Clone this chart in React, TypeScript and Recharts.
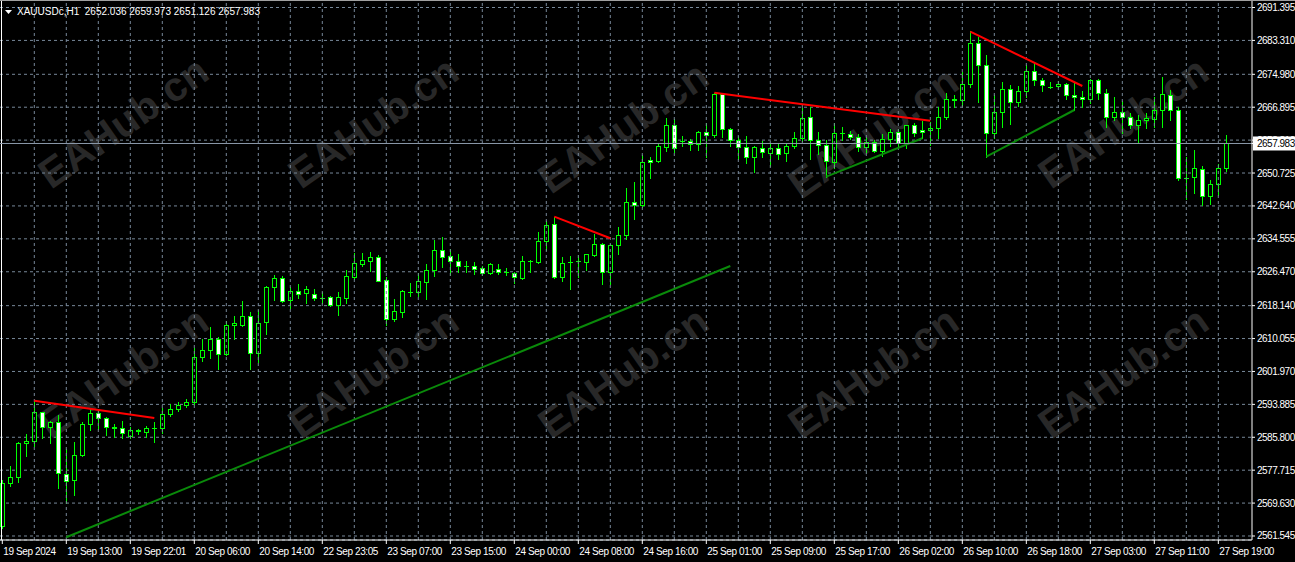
import { ComposedChart, Bar, XAxis, YAxis, CartesianGrid, ReferenceLine } from "recharts";

const W = 1295;
const H = 562;
const FONT = "'Liberation Sans', Arial, sans-serif";

const symbol = "XAUUSDc,H1";

const xLabels = [
  "19 Sep 2024", "19 Sep 13:00", "19 Sep 22:01", "20 Sep 06:00", "20 Sep 14:00",
  "22 Sep 23:05", "23 Sep 07:00", "23 Sep 15:00", "24 Sep 00:00", "24 Sep 08:00",
  "24 Sep 16:00", "25 Sep 01:00", "25 Sep 09:00", "25 Sep 17:00", "26 Sep 02:00",
  "26 Sep 10:00", "26 Sep 18:00", "27 Sep 03:00", "27 Sep 11:00", "27 Sep 19:00",
];

const priceTicks = [
  2561.545, 2569.63, 2577.715, 2585.8, 2593.885, 2601.97, 2610.055, 2618.14, 2626.47,
  2634.555, 2642.64, 2650.725, 2658.81, 2666.895, 2674.98, 2683.31, 2691.395,
];

const opens = [
  2564.08, 2574.49, 2575.97, 2584.32, 2584.81, 2591.94, 2588.4, 2589.48, 2576.7, 2575.23,
  2581.37, 2588.99, 2591.69, 2590.46, 2588.25, 2588.2, 2586.19, 2587.5, 2587.17, 2588.05,
  2588.15, 2591.45, 2592.75, 2593.73, 2594.47, 2605.45, 2607.17, 2609.95, 2606.34, 2613.31,
  2613.46, 2615.53, 2606.58, 2614.05, 2622.65, 2624.86, 2619.46, 2621.67, 2621.18, 2620.93,
  2620.0, 2620.19, 2618.23, 2620.1, 2625.26, 2628.45, 2629.19, 2630.02, 2624.37, 2614.94,
  2616.66, 2621.6, 2621.57, 2624.03, 2626.9, 2631.74, 2630.34, 2629.04, 2628.0, 2627.81,
  2627.32, 2626.24, 2627.07, 2626.5, 2626.24, 2625.01, 2629.04, 2628.79, 2633.95, 2638.13,
  2625.26, 2628.9, 2629.0, 2628.79, 2630.66, 2633.22, 2626.34, 2633.12, 2635.43, 2643.54,
  2642.95, 2653.93, 2653.76, 2657.05, 2662.46, 2658.7, 2658.6, 2657.93, 2660.73, 2660.0,
  2670.14, 2661.47, 2658.77, 2657.05, 2654.59, 2656.8, 2655.72, 2656.8, 2655.57, 2657.3,
  2659.26, 2664.42, 2658.92, 2657.62, 2653.51, 2660.5, 2660.24, 2659.65, 2657.2, 2658.28,
  2656.21, 2659.02, 2660.73, 2658.03, 2662.46, 2661.23, 2661.23, 2661.72, 2664.57, 2668.85,
  2668.6, 2672.53, 2682.6, 2677.2, 2660.64, 2665.65, 2671.3, 2668.11, 2670.81, 2675.72,
  2673.51, 2671.95, 2672.04, 2672.53, 2669.83, 2669.33, 2668.85, 2673.51, 2670.32, 2664.57,
  2665.65, 2664.57, 2662.46, 2663.68, 2664.08, 2666.14, 2669.83, 2666.14, 2649.43, 2649.68,
  2651.64, 2645.08, 2647.96, 2652.036,
];

const highs = [
  2575.3, 2578.74, 2584.64, 2586.61, 2594.71, 2592.0, 2589.8, 2591.27, 2582.85, 2584.72,
  2589.63, 2592.67, 2592.67, 2590.86, 2589.06, 2589.8, 2588.25, 2587.84, 2588.57, 2589.48,
  2593.07, 2593.98, 2594.47, 2595.21, 2607.66, 2609.95, 2612.82, 2610.51, 2614.37, 2615.6,
  2619.28, 2616.58, 2617.07, 2622.97, 2625.67, 2625.43, 2622.72, 2623.54, 2622.9, 2622.16,
  2621.5, 2620.5, 2621.5, 2626.83, 2631.15, 2631.01, 2631.32, 2630.59, 2625.26, 2619.7,
  2621.99, 2623.78, 2626.09, 2628.37, 2634.27, 2635.08, 2631.99, 2630.83, 2629.04, 2628.94,
  2627.8, 2628.5, 2628.37, 2627.39, 2626.3, 2630.34, 2629.36, 2636.31, 2638.86, 2639.85,
  2630.02, 2630.34, 2630.66, 2630.83, 2635.75, 2633.46, 2633.29, 2637.47, 2647.05, 2648.52,
  2655.16, 2654.59, 2657.79, 2664.17, 2663.93, 2659.83, 2659.02, 2661.13, 2662.95, 2670.46,
  2670.46, 2661.86, 2659.83, 2659.83, 2657.44, 2658.52, 2657.79, 2658.03, 2658.03, 2660.81,
  2666.78, 2667.03, 2660.73, 2658.84, 2662.95, 2662.11, 2661.05, 2660.24, 2659.65, 2658.84,
  2660.24, 2661.47, 2661.55, 2662.61, 2662.95, 2663.44, 2663.34, 2667.03, 2670.32, 2669.98,
  2675.63, 2685.55, 2684.22, 2679.73, 2669.9, 2673.1, 2672.28, 2672.11, 2677.2, 2678.08,
  2674.0, 2673.1, 2673.26, 2672.77, 2672.77, 2670.88, 2673.83, 2673.75, 2671.3, 2669.33,
  2668.42, 2665.4, 2664.98, 2665.4, 2669.33, 2674.25, 2671.13, 2666.88, 2654.74, 2656.38,
  2652.45, 2649.02, 2652.94, 2659.973,
];

const lows = [
  2563.51, 2573.83, 2574.89, 2581.27, 2583.73, 2585.7, 2584.32, 2573.26, 2569.58, 2571.62,
  2581.2, 2587.59, 2587.76, 2586.36, 2585.8, 2585.55, 2585.55, 2586.61, 2585.94, 2584.72,
  2586.78, 2591.03, 2592.26, 2593.24, 2593.98, 2604.62, 2605.35, 2602.5, 2605.94, 2610.02,
  2613.14, 2602.5, 2604.37, 2611.18, 2619.53, 2619.04, 2617.64, 2620.02, 2618.87, 2619.53,
  2618.72, 2618.0, 2615.92, 2618.72, 2624.77, 2627.96, 2626.73, 2624.2, 2613.39, 2614.45,
  2615.28, 2620.59, 2620.59, 2619.78, 2625.5, 2627.71, 2625.67, 2626.41, 2626.34, 2625.85,
  2625.6, 2625.9, 2625.8, 2625.67, 2623.63, 2624.69, 2626.48, 2628.55, 2631.82, 2625.01,
  2624.27, 2622.31, 2625.26, 2626.9, 2630.27, 2623.39, 2623.39, 2630.91, 2634.45, 2639.51,
  2642.31, 2649.58, 2653.37, 2656.21, 2655.89, 2657.44, 2656.38, 2656.38, 2654.59, 2659.51,
  2659.65, 2657.44, 2654.25, 2653.27, 2651.06, 2654.59, 2652.53, 2654.25, 2653.76, 2656.8,
  2658.6, 2654.1, 2655.33, 2649.83, 2651.89, 2658.84, 2659.02, 2656.21, 2655.97, 2655.97,
  2654.91, 2657.44, 2657.44, 2656.96, 2659.83, 2659.26, 2657.62, 2659.41, 2663.93, 2666.88,
  2667.2, 2671.94, 2668.25, 2654.74, 2659.26, 2662.11, 2662.85, 2667.2, 2669.33, 2672.28,
  2670.81, 2671.7, 2671.86, 2668.99, 2666.21, 2666.88, 2667.86, 2668.91, 2662.11, 2663.76,
  2660.49, 2661.72, 2658.18, 2661.72, 2662.11, 2662.11, 2663.76, 2649.0, 2644.27, 2645.75,
  2642.87, 2643.12, 2645.33, 2651.126,
];

const closes = [
  2574.49, 2575.97, 2584.32, 2584.89, 2591.94, 2588.4, 2589.48, 2576.95, 2575.06, 2581.37,
  2588.99, 2591.69, 2590.46, 2588.25, 2588.2, 2586.78, 2587.59, 2587.42, 2588.01, 2588.1,
  2591.45, 2592.75, 2593.73, 2594.47, 2605.45, 2607.17, 2609.95, 2606.19, 2613.31, 2613.81,
  2615.53, 2606.58, 2613.81, 2622.65, 2624.86, 2619.36, 2621.67, 2620.93, 2622.16, 2619.95,
  2620.1, 2618.23, 2620.19, 2625.35, 2628.55, 2629.29, 2630.02, 2624.27, 2614.94, 2616.83,
  2621.74, 2621.57, 2624.2, 2626.9, 2631.74, 2630.17, 2629.19, 2627.96, 2627.96, 2627.22,
  2626.09, 2628.3, 2626.48, 2626.48, 2625.11, 2629.04, 2629.0, 2633.95, 2637.88, 2625.26,
  2628.55, 2628.94, 2629.04, 2630.76, 2633.22, 2626.34, 2632.97, 2635.43, 2643.54, 2642.95,
  2653.37, 2653.37, 2657.3, 2662.46, 2656.88, 2658.67, 2657.93, 2660.73, 2660.0, 2670.14,
  2661.47, 2658.77, 2657.05, 2654.59, 2657.05, 2655.82, 2656.8, 2655.33, 2657.3, 2659.26,
  2664.17, 2658.77, 2657.54, 2653.68, 2660.49, 2660.49, 2659.65, 2657.05, 2658.28, 2656.14,
  2659.02, 2660.73, 2658.03, 2662.46, 2660.49, 2660.73, 2661.72, 2664.57, 2668.85, 2668.6,
  2672.53, 2682.6, 2677.2, 2660.64, 2665.65, 2671.3, 2668.11, 2670.81, 2675.72, 2673.51,
  2672.28, 2671.94, 2672.53, 2669.83, 2669.33, 2668.85, 2673.51, 2670.32, 2664.57, 2665.65,
  2664.57, 2662.46, 2663.68, 2664.17, 2666.14, 2670.07, 2666.14, 2649.43, 2649.4, 2651.89,
  2645.08, 2647.96, 2651.89, 2657.983,
];

// trend lines: [bar, price, bar, price]
const redLines = [
  [4, 2594.79, 19, 2590.54],
  [69, 2640.0, 76, 2634.69],
  [89, 2670.46, 116, 2663.58],
  [121, 2685.45, 135, 2672.11],
];
const greenLines = [
  [8, 2561.25, 91, 2627.88],
  [103, 2649.83, 115, 2659.26],
  [123, 2654.74, 134, 2666.21],
];

const candles = opens.map((o, i) => ({
  i,
  o,
  h: highs[i],
  l: lows[i],
  c: closes[i],
  range: [lows[i], highs[i]],
}));

const last = candles.length - 1;
const bid = closes[last];
const labelBars = xLabels.map((_, k) => k * 8);
const gridBars = Array.from({ length: 38 }, (_, k) => (k + 1) * 4);

const watermarks = [
  [125, 125], [375, 125], [625, 130], [875, 135], [1125, 125],
  [125, 375], [375, 375], [625, 375], [875, 375], [1125, 375],
];

function Candle(props: any) {
  const { x, y, width, height, payload } = props;
  if (x == null || payload == null) return null;
  const top = Math.min(y, y + height);
  const bot = Math.max(y, y + height);
  const { o, h, l, c } = payload;
  const span = h - l || 1;
  const py = (p: number) => top + ((h - p) / span) * (bot - top);
  const col = Math.floor(x + width / 2);
  const bt = Math.round(Math.min(py(o), py(c))) + 0.5;
  const bb = Math.round(Math.max(py(o), py(c))) + 0.5;
  const up = c >= o;
  return (
    <g shapeRendering="crispEdges">
      <line x1={col + 0.5} x2={col + 0.5} y1={Math.round(top)} y2={Math.round(bot) + 1} stroke="#00ff00" />
      {bb - bt < 1 ? (
        <line x1={col - 2} x2={col + 3} y1={bt} y2={bt} stroke="#00ff00" />
      ) : (
        <rect x={col - 1.5} y={bt} width={4} height={bb - bt} fill={up ? "#000000" : "#ffffff"} stroke="#00ff00" />
      )}
    </g>
  );
}

function XTick(props: any) {
  const { x, y, payload } = props;
  const k = labelBars.indexOf(payload.value);
  return (
    <text x={x + 1} y={y + 9} fill="#ffffff" fontSize={10} fontFamily={FONT} letterSpacing={-0.4}>
      {xLabels[k]}
    </text>
  );
}

// price ticks, with the bid box drawn last so it covers its neighbour
function YTick(props: any) {
  const { x, y, payload } = props;
  const v = payload.value;
  if (v === bid) {
    return (
      <g>
        <rect x={x - 4} y={y - 7} width={W - x + 4} height={14} fill="#ffffff" />
        <text x={x} y={y + 4} fill="#000000" fontSize={10} fontFamily={FONT} letterSpacing={-0.5}>
          {v.toFixed(3)}
        </text>
      </g>
    );
  }
  return (
    <text x={x} y={y + 3.5} fill="#ffffff" fontSize={10} fontFamily={FONT} letterSpacing={-0.5}>
      {v.toFixed(3)}
    </text>
  );
}

export default function App() {
  return (
    <div style={{ position: "absolute", left: 0, top: 0, width: W, height: H, background: "#000000", overflow: "hidden" }}>
      <svg width={W} height={H} style={{ position: "absolute", left: 0, top: 0 }}>
        {watermarks.map(([cx, cy], k) => (
          <text
            key={k}
            x={cx}
            y={cy}
            textAnchor="middle"
            dominantBaseline="middle"
            fontSize={41}
            fontWeight="bold"
            fontFamily={FONT}
            fill="#282828"
            transform={`rotate(-35 ${cx} ${cy})`}
          >
            EAHub.cn
          </text>
        ))}
      </svg>
      <div style={{ position: "absolute", left: 0, top: 0 }}>
        <ComposedChart width={W} height={H} data={candles} margin={{ top: 0, right: 0, left: 0, bottom: 0 }}>
          <CartesianGrid vertical={false} stroke="#778899" strokeDasharray="3 3" />
          {gridBars.map((b) => (
            <ReferenceLine key={b} x={b} stroke="#778899" strokeDasharray="3 3" />
          ))}
          <XAxis
            dataKey="i"
            type="number"
            domain={[-0.2875, 156.21]}
            allowDataOverflow
            ticks={labelBars}
            interval={0}
            height={22}
            tickSize={4}
            tickMargin={2}
            stroke="#ffffff"
            tick={<XTick />}
          />
          <YAxis
            orientation="right"
            width={43}
            domain={[2560.562, 2693.238]}
            allowDataOverflow
            ticks={[...priceTicks, bid]}
            interval={0}
            tickSize={3}
            tickMargin={2}
            stroke="#ffffff"
            tick={<YTick />}
          />
          <ReferenceLine x={-0.1} stroke="#ffffff" />
          <Bar dataKey="range" barSize={5} shape={<Candle />} isAnimationActive={false} />
          {greenLines.map(([x1, y1, x2, y2], k) => (
            <ReferenceLine key={"g" + k} segment={[{ x: x1, y: y1 }, { x: x2, y: y2 }]} stroke="#0a8a0a" strokeWidth={2} ifOverflow="visible" />
          ))}
          {redLines.map(([x1, y1, x2, y2], k) => (
            <ReferenceLine key={"r" + k} segment={[{ x: x1, y: y1 }, { x: x2, y: y2 }]} stroke="#ff0000" strokeWidth={2} ifOverflow="visible" />
          ))}
          <ReferenceLine y={bid} stroke="#8a97a8" />
        </ComposedChart>
      </div>
      <div style={{ position: "absolute", left: 0, top: 0, width: W, height: 1, background: "#a0a0a0" }} />
      <svg width={12} height={12} style={{ position: "absolute", left: 4, top: 9 }}>
        <polygon points="1,1 8,1 4.5,5" fill="#ffffff" />
      </svg>
      <div
        style={{
          position: "absolute",
          left: 17,
          top: 6,
          color: "#ffffff",
          fontSize: 10,
          fontFamily: FONT,
          whiteSpace: "pre",
          lineHeight: "12px",
        }}
      >
        {`${symbol}  ${opens[last].toFixed(3)} ${highs[last].toFixed(3)} ${lows[last].toFixed(3)} ${closes[last].toFixed(3)}`}
      </div>
    </div>
  );
}
